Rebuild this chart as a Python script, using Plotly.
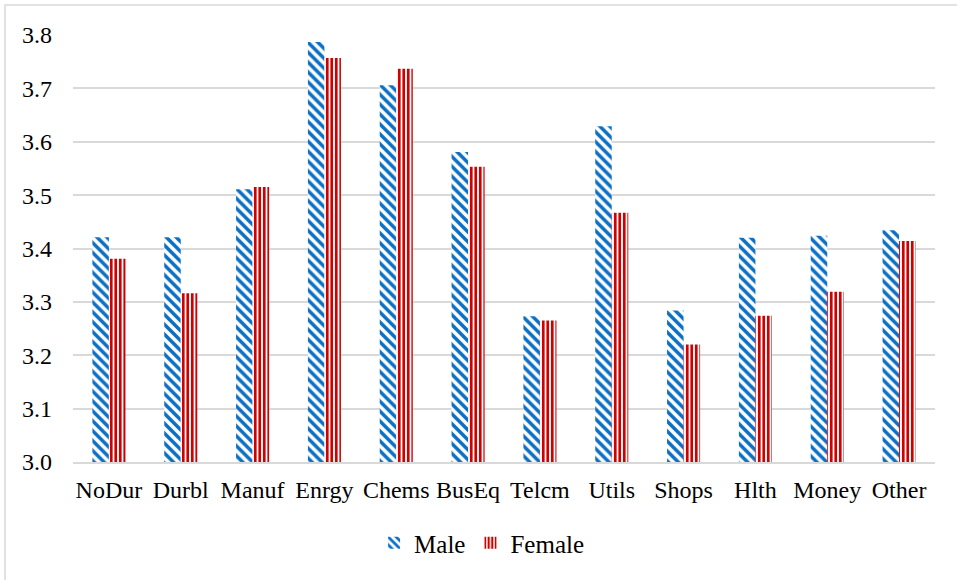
import plotly.graph_objects as go

categories = ["NoDur", "Durbl", "Manuf", "Enrgy", "Chems", "BusEq", "Telcm",
              "Utils", "Shops", "Hlth", "Money", "Other"]
male = [3.421, 3.421, 3.511, 3.787, 3.706, 3.581, 3.273, 3.629, 3.284, 3.420, 3.424, 3.434]
female = [3.381, 3.316, 3.515, 3.757, 3.737, 3.553, 3.265, 3.467, 3.220, 3.274, 3.319, 3.414]
y_ticks = [3.0, 3.1, 3.2, 3.3, 3.4, 3.5, 3.6, 3.7, 3.8]
y_tick_text = ["3.0", "3.1", "3.2", "3.3", "3.4", "3.5", "3.6", "3.7", "3.8"]

BLUE = "#0B6FC4"
RED = "#D00000"
FONT = "Times New Roman, Liberation Serif, serif"

fig = go.Figure()
fig.add_trace(go.Bar(
    x=categories, y=male, name="Male", base=0,
    marker=dict(color="white", line=dict(width=0),
                pattern=dict(shape="\\", fgcolor=BLUE, bgcolor="white",
                             size=7, solidity=0.5, fillmode="replace")),
))
fig.add_trace(go.Bar(
    x=categories, y=female, name="Female", base=0,
    marker=dict(color="white", line=dict(width=0),
                pattern=dict(shape="|", fgcolor=RED, bgcolor="white",
                             size=4.5, solidity=0.6, fillmode="replace")),
))

L, R, T, B = 73, 22, 35, 118
W, H = 957, 580
pw = W - L - R
ph = H - T - B

fig.update_layout(
    width=W, height=H,
    margin=dict(l=L, r=R, t=T, b=B, pad=0),
    paper_bgcolor="white", plot_bgcolor="white",
    barmode="group", bargap=0.54, bargroupgap=0.0,
    font=dict(family=FONT, size=24, color="#000000"),
    showlegend=True,
    legend=dict(orientation="h", x=0.474, xanchor="center",
                y=(T + ph - 543) / ph, yanchor="middle",
                font=dict(family=FONT, size=25, color="#000000"),
                itemwidth=30, tracegroupgap=0, bgcolor="rgba(0,0,0,0)"),
    xaxis=dict(showgrid=False, showline=True, linecolor="#D9D9D9", linewidth=1.5,
               ticks="", tickfont=dict(family=FONT, size=24, color="#000000"),
               ticklabelstandoff=5, fixedrange=True),
    yaxis=dict(range=[3.0, 3.8], tickvals=y_ticks, ticktext=y_tick_text,
               showgrid=True, gridcolor="#D9D9D9", gridwidth=1.5,
               zeroline=False, showline=False, ticks="",
               tickfont=dict(family=FONT, size=24, color="#000000"),
               ticklabelstandoff=20, fixedrange=True),
    shapes=[dict(type="rect", xref="paper", yref="paper",
                 x0=(5 - L) / pw, x1=(W + 20 - L) / pw,
                 y0=(T + ph - (H + 20)) / ph, y1=(T + ph - 5) / ph,
                 line=dict(color="#D9D9D9", width=1.5),
                 fillcolor="rgba(0,0,0,0)", layer="below")],
)

fig.write_html("out.html", config={"displayModeBar": False},
               post_script="document.body.style.margin='0';")
